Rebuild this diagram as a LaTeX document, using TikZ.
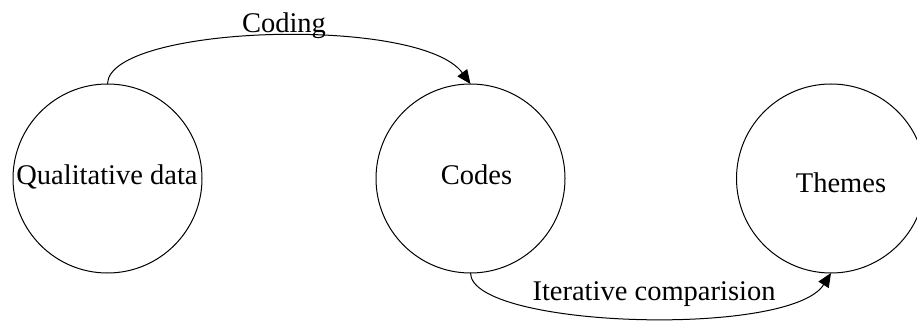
\documentclass[tikz,border=0pt]{standalone}
\usepackage{fontspec}
\setmainfont{Liberation Serif}
\usetikzlibrary{arrows.meta}
\begin{document}
\begin{tikzpicture}[x=1pt,y=-1pt,
  line width=1pt,
  stage/.style={draw, circle, minimum size=189pt, inner sep=0pt, outer sep=0pt},
  caption/.style={anchor=base, inner sep=0pt, font=\fontsize{28.5}{34}\selectfont},
  flow/.style={draw, -{Triangle[length=14pt,width=12pt]}}]
  \useasboundingbox (0,0) rectangle (917,323);
  % three stages
  \node[stage] (qd)     at (107.5,178.5) {};
  \node[stage] (codes)  at (470.5,178.5) {};
  \node[stage] (themes) at (831,178.5) {};
  \node[caption] (tqd)     at (107,184) {Qualitative data};
  \node[caption] (tcodes)  at (476.5,184) {Codes};
  \node[caption] (tthemes) at (841,193) {Themes};
  % transitions
  \draw[flow] (qd.north) .. controls (108,25) and (420,15) .. (codes.north);
  \node[caption] (lcoding) at (284,32.3) {Coding};
  \draw[flow] (codes.south) .. controls (471,328) and (790,338) .. (themes.south);
  \node[caption] (liter) at (654,300) {Iterative comparision};
\end{tikzpicture}
\end{document}
